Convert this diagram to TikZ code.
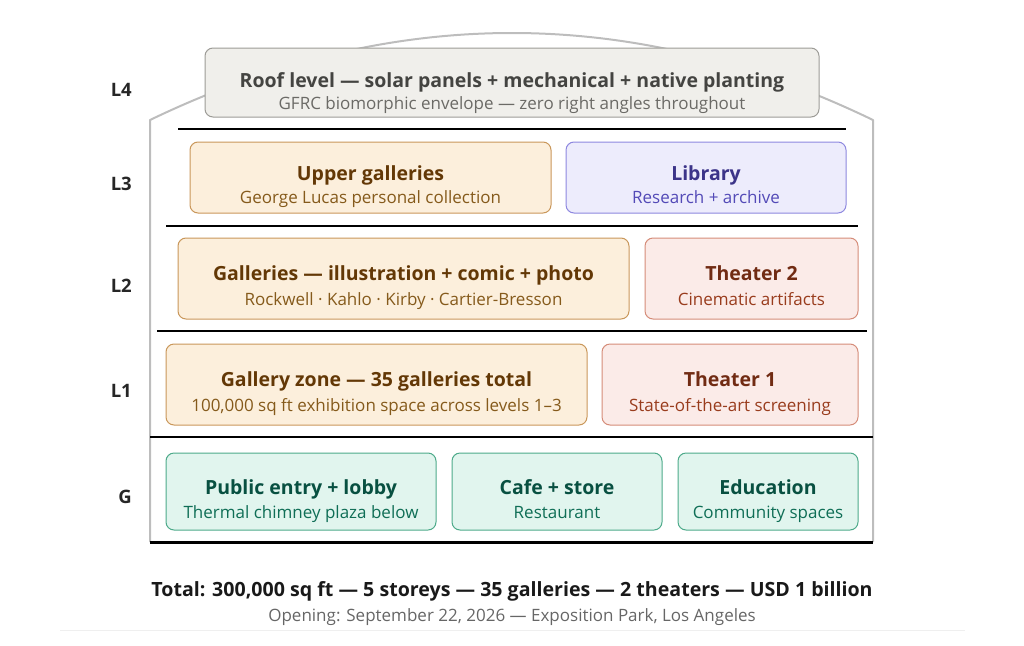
\documentclass[tikz,border=0pt]{standalone}
\usepackage{fontspec}
\setmainfont{Open Sans}
\usepackage{tikz}
\usetikzlibrary{positioning}
\definecolor{wallgray}{HTML}{BDBDBD}
\definecolor{rulegray}{HTML}{EFEFEF}
\definecolor{roofline}{HTML}{9C9B96}
\definecolor{rooffill}{HTML}{F0EFEB}
\definecolor{rooftitle}{HTML}{444441}
\definecolor{roofsub}{HTML}{6B6A66}
\definecolor{amberline}{HTML}{C9975A}
\definecolor{amberfill}{HTML}{FCEFDC}
\definecolor{ambertitle}{HTML}{633806}
\definecolor{ambersub}{HTML}{855A1B}
\definecolor{purpleline}{HTML}{8D87DF}
\definecolor{purplefill}{HTML}{EDECFC}
\definecolor{purpletitle}{HTML}{3C3489}
\definecolor{purplesub}{HTML}{534AB7}
\definecolor{coralline}{HTML}{D58C79}
\definecolor{coralfill}{HTML}{FBEBE8}
\definecolor{coraltitle}{HTML}{712B13}
\definecolor{coralsub}{HTML}{993C1D}
\definecolor{tealline}{HTML}{4DAA8A}
\definecolor{tealfill}{HTML}{E1F5EE}
\definecolor{tealtitle}{HTML}{085041}
\definecolor{tealsub}{HTML}{0F6E56}

\tikzset{
  room/.style={draw=#1line, fill=#1fill, rounded corners=8pt, line width=1pt},
  roomtitle/.style={anchor=base, inner sep=0pt, text=#1title,
    font=\fontsize{19.5}{22}\selectfont\bfseries},
  roomsub/.style={anchor=base, inner sep=0pt, text=#1sub,
    font=\fontsize{17}{19}\selectfont},
  floorline/.style={line width=2pt},
  levellabel/.style={anchor=base east, inner sep=0pt, text=black!85,
    font=\fontsize{18.5}{20}\selectfont\bfseries}
}

\begin{document}
\begin{tikzpicture}[x=1pt, y=-1pt]
\useasboundingbox (0,0) rectangle (1024,645);

% building outline
\coordinate (wallBL) at (150,542);
\coordinate (wallTL) at (150,120);
\coordinate (wallTR) at (873,120);
\coordinate (wallBR) at (873,542);
\draw[wallgray, line width=2pt, line join=round]
  (wallBL) -- (wallTL) .. controls (391,4) and (633,4) .. (wallTR) -- (wallBR);

% floor slabs
\coordinate (s4l) at (178,129);  \coordinate (s4r) at (846,129);
\coordinate (s3l) at (166,226);  \coordinate (s3r) at (858,226);
\coordinate (s2l) at (157,331);  \coordinate (s2r) at (867,331);
\coordinate (s1l) at (150,437);  \coordinate (s1r) at (873,437);
\draw[floorline] (s4l) -- (s4r);
\draw[floorline] (s3l) -- (s3r);
\draw[floorline] (s2l) -- (s2r);
\draw[floorline] (s1l) -- (s1r);
\draw[line width=3pt] (wallBL) -- (wallBR);

% L4
\node[room=roof, minimum width=614pt, minimum height=69pt] (roof) at (512,82.5) {};
\node[roomtitle=roof] (roof-t) at ([yshift=-4.5pt]roof.center)
  {Roof level — solar panels + mechanical + native planting};
\node[roomsub=roof] (roof-s) at ([yshift=-27pt]roof.center)
  {GFRC biomorphic envelope — zero right angles throughout};

% L3
\node[room=amber, minimum width=361pt, minimum height=71pt] (upper) at (370.5,177.5) {};
\node[roomtitle=amber] (upper-t) at ([yshift=-3pt]upper.center) {Upper galleries};
\node[roomsub=amber] (upper-s) at ([yshift=-26pt]upper.center) {George Lucas personal collection};

\node[room=purple, minimum width=280pt, minimum height=71pt] (library) at (706,177.5) {};
\node[roomtitle=purple] (library-t) at ([yshift=-3pt]library.center) {Library};
\node[roomsub=purple] (library-s) at ([yshift=-26pt]library.center) {Research + archive};

% L2
\node[room=amber, minimum width=451pt, minimum height=81pt] (galleries) at (403.5,278.5) {};
\node[roomtitle=amber] (galleries-t) at ([yshift=-2pt]galleries.center)
  {Galleries — illustration + comic + photo};
\node[roomsub=amber] (galleries-s) at ([yshift=-26.5pt]galleries.center)
  {Rockwell · Kahlo · Kirby · Cartier-Bresson};

\node[room=coral, minimum width=213pt, minimum height=81pt] (theater2) at (751.5,278.5) {};
\node[roomtitle=coral] (theater2-t) at ([yshift=-2pt]theater2.center) {Theater 2};
\node[roomsub=coral] (theater2-s) at ([yshift=-26.5pt]theater2.center) {Cinematic artifacts};

% L1
\node[room=amber, minimum width=421pt, minimum height=81pt] (zone) at (376.5,384.5) {};
\node[roomtitle=amber] (zone-t) at ([yshift=-1.5pt]zone.center)
  {Gallery zone — 35 galleries total};
\node[roomsub=amber] (zone-s) at ([yshift=-26.5pt]zone.center)
  {100,000 sq ft exhibition space across levels 1–3};

\node[room=coral, minimum width=256pt, minimum height=81pt] (theater1) at (730,384.5) {};
\node[roomtitle=coral] (theater1-t) at ([yshift=-1.5pt]theater1.center) {Theater 1};
\node[roomsub=coral] (theater1-s) at ([yshift=-26.5pt]theater1.center) {State-of-the-art screening};

% G
\node[room=teal, minimum width=270pt, minimum height=77pt] (entry) at (301,491.5) {};
\node[roomtitle=teal] (entry-t) at ([yshift=-3pt]entry.center) {Public entry + lobby};
\node[roomsub=teal] (entry-s) at ([yshift=-27pt]entry.center) {Thermal chimney plaza below};

\node[room=teal, minimum width=210pt, minimum height=77pt] (cafe) at (557,491.5) {};
\node[roomtitle=teal] (cafe-t) at ([yshift=-3pt]cafe.center) {Cafe + store};
\node[roomsub=teal] (cafe-s) at ([yshift=-27pt]cafe.center) {Restaurant};

\node[room=teal, minimum width=180pt, minimum height=77pt] (education) at (768,491.5) {};
\node[roomtitle=teal] (education-t) at ([yshift=-3pt]education.center) {Education};
\node[roomsub=teal] (education-s) at ([yshift=-27pt]education.center) {Community spaces};

% level labels
\node[levellabel] (lvl4) at (132,96) {L4};
\node[levellabel] (lvl3) at (132,190) {L3};
\node[levellabel] (lvl2) at (132,292.5) {L2};
\node[levellabel] (lvl1) at (132,397.5) {L1};
\node[levellabel] (lvlg) at (132,503) {G};

% totals
\node[anchor=base, inner sep=0pt, font=\fontsize{19.6}{22}\selectfont\bfseries, text=black!90] (totals)
  at (512,596) {Total: 300,000 sq ft — 5 storeys — 35 galleries — 2 theaters — USD 1 billion};
\node[anchor=base, inner sep=0pt, font=\fontsize{17}{19}\selectfont, text=black!60] (opening)
  at (512,621) {Opening: September 22, 2026 — Exposition Park, Los Angeles};
\coordinate (ruleL) at (60,630);
\coordinate (ruleR) at (965,630);
\draw[rulegray, line width=1pt] (ruleL) -- (ruleR);
\end{tikzpicture}
\end{document}
